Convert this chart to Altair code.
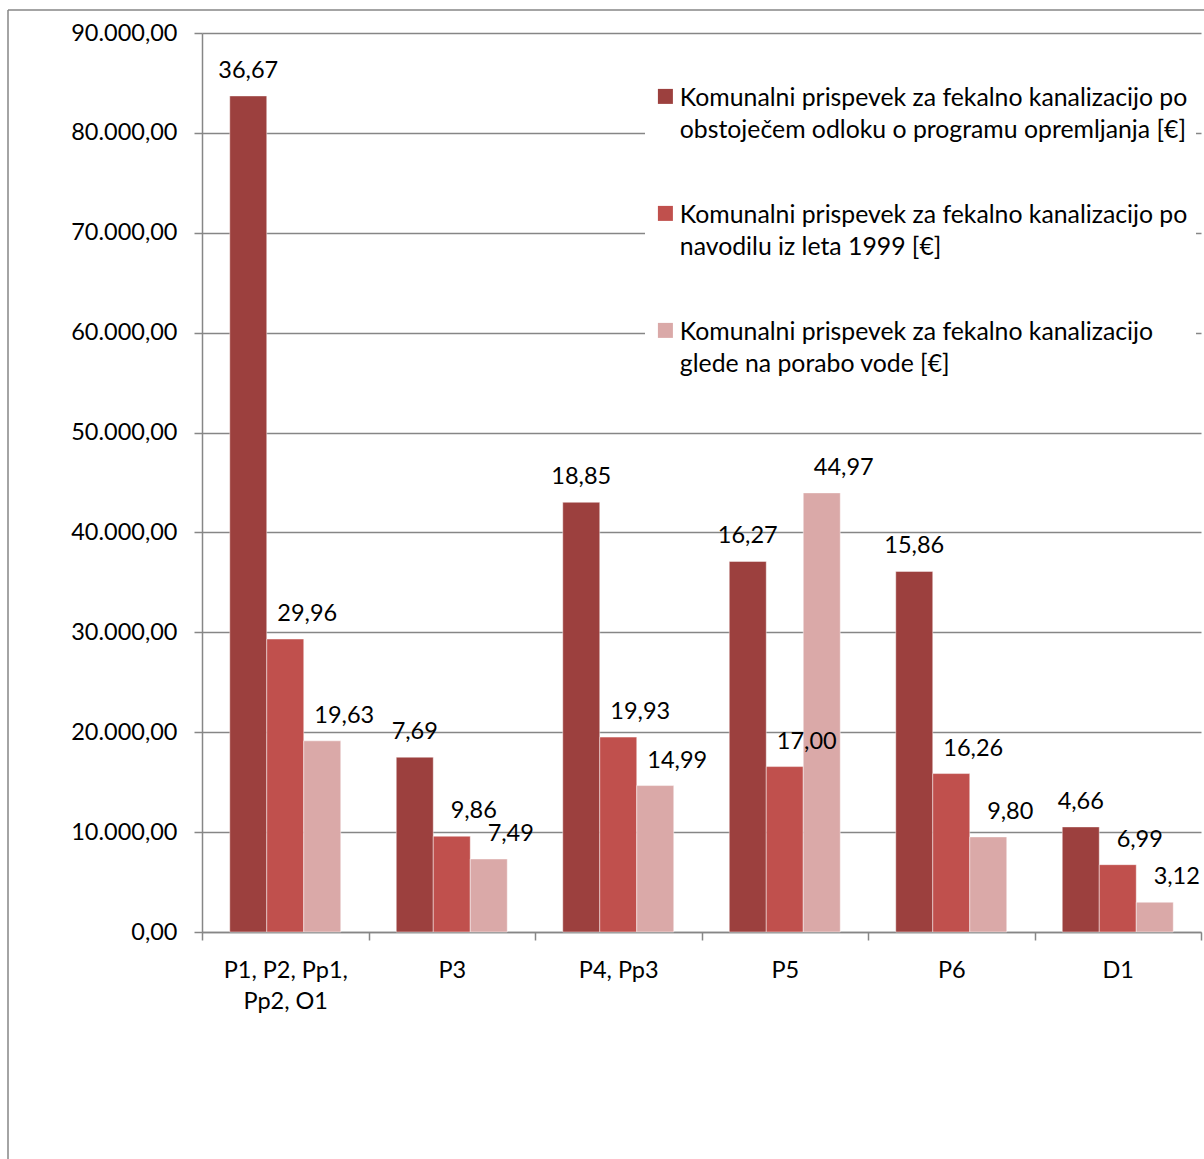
import altair as alt
import pandas as pd

# x-axis categories (a newline marks where a long label wraps)
categories = ["P1, P2, Pp1,\nPp2, O1", "P3", "P4, Pp3", "P5", "P6", "D1"]

# series names, wrapped onto two legend lines
series = [
    "Komunalni prispevek za fekalno kanalizacijo po\nobstoječem odloku o programu opremljanja [€]",
    "Komunalni prispevek za fekalno kanalizacijo po\nnavodilu iz leta 1999 [€]",
    "Komunalni prispevek za fekalno kanalizacijo\nglede na porabo vode [€]",
]
colors = ["#9C403E", "#C0504D", "#DAA9A8"]

# contribution in EUR per category, one list per series
odlok = [83700, 17500, 43020, 37100, 36100, 10520]
navodilo = [29330, 9590, 19510, 16560, 15860, 6740]
poraba = [19140, 7310, 14660, 43960, 9520, 2980]

# data labels printed above the bars
odlok_lbl = ["36,67", "7,69", "18,85", "16,27", "15,86", "4,66"]
navodilo_lbl = ["29,96", "9,86", "19,93", "17,00", "16,26", "6,99"]
poraba_lbl = ["19,63", "7,49", "14,99", "44,97", "9,80", "3,12"]

y_ticks = list(range(0, 90001, 10000))

rows = []
for name, vals, lbls in zip(series, [odlok, navodilo, poraba], [odlok_lbl, navodilo_lbl, poraba_lbl]):
    for cat, v, l in zip(categories, vals, lbls):
        rows.append({"kategorija": cat, "serija": name, "vrednost": v, "oznaka": l})
df = pd.DataFrame(rows)

FONT = "Lato"
GREY = "#868686"
FS = 23.5

base = alt.Chart(df).encode(
    x=alt.X(
        "kategorija:N",
        sort=categories,
        scale=alt.Scale(paddingInner=0, paddingOuter=0),
        axis=alt.Axis(
            title=None,
            labelAngle=0,
            labelExpr="split(datum.label, '\\n')",
            labelLineHeight=31,
            labelPadding=18,
            labelFontSize=FS,
            labelColor="black",
            tickBand="extent",
            tickSize=8,
            tickWidth=1.5,
            tickColor=GREY,
            domainColor=GREY,
            domainWidth=1.5,
            grid=False,
        ),
    ),
    xOffset=alt.XOffset(
        "serija:N", sort=series, scale=alt.Scale(paddingInner=0, paddingOuter=0.75)
    ),
    y=alt.Y(
        "vrednost:Q",
        scale=alt.Scale(domain=[0, 90000], nice=False),
        axis=alt.Axis(
            title=None,
            values=y_ticks,
            format=",.2f",
            labelFontSize=FS,
            labelColor="black",
            labelPadding=17,
            tickSize=8,
            tickWidth=1.5,
            tickColor=GREY,
            domainColor=GREY,
            domainWidth=1.5,
            grid=True,
            gridColor=GREY,
            gridWidth=1.5,
        ),
    ),
)

bars = base.mark_bar(stroke="white", strokeOpacity=0.45, strokeWidth=1).encode(
    color=alt.Color(
        "serija:N",
        sort=series,
        scale=alt.Scale(domain=series, range=colors),
        legend=alt.Legend(
            title=None,
            orient="none",
            legendX=443,
            legendY=33,
            padding=8,
            fillColor="white",
            labelExpr="split(datum.label, '\\n')",
            labelFontSize=24.8,
            labelFont=FONT,
            labelColor="black",
            labelLimit=800,
            labelBaseline="top",
            labelOffset=2,
            symbolType="M-1,0.333H1V2.333H-1Z",
            symbolSize=225,
            symbolStrokeWidth=0,
            symbolOpacity=1,
            rowPadding=47,
        ),
    )
)

# labels of the first series sit centred over their bars,
# those of the other two are nudged to the right
labels_first = (
    base.mark_text(baseline="alphabetic", dy=-18, fontSize=FS, color="black", font=FONT)
    .encode(text="oznaka:N")
    .transform_filter(alt.datum.serija == series[0])
)
labels_rest = (
    base.mark_text(baseline="alphabetic", dx=22, dy=-18, fontSize=FS, color="black", font=FONT)
    .encode(text="oznaka:N")
    .transform_filter(alt.datum.serija != series[0])
)

# chart-area frame along the top and left edges
frame_top = alt.Chart(pd.DataFrame({"k": [0]})).mark_rule(
    color=GREY, strokeWidth=1.5
).encode(x=alt.value(-194), x2=alt.value(1010), y=alt.value(-23))
frame_left = alt.Chart(pd.DataFrame({"k": [0]})).mark_rule(
    color=GREY, strokeWidth=1.5
).encode(x=alt.value(-194), y=alt.value(-23), y2=alt.value(1130))

chart = (
    alt.layer(bars, labels_first, labels_rest, frame_top, frame_left)
    .properties(
        width=999,
        height=899,
        autosize=alt.AutoSizeParams(type="none"),
        padding={"left": 202, "top": 33, "right": 3, "bottom": 227},
        background="white",
    )
    .configure(
        font=FONT,
        locale={
            "number": {
                "decimal": ",",
                "thousands": ".",
                "grouping": [3],
                "currency": ["", " €"],
            }
        },
        style={"guide-label": {"lineHeight": 32}},
    )
    .configure_view(stroke=None)
    .configure_axis(labelFont=FONT)
)

chart.save("out.html", embed_options={"renderer": "svg", "actions": False})
